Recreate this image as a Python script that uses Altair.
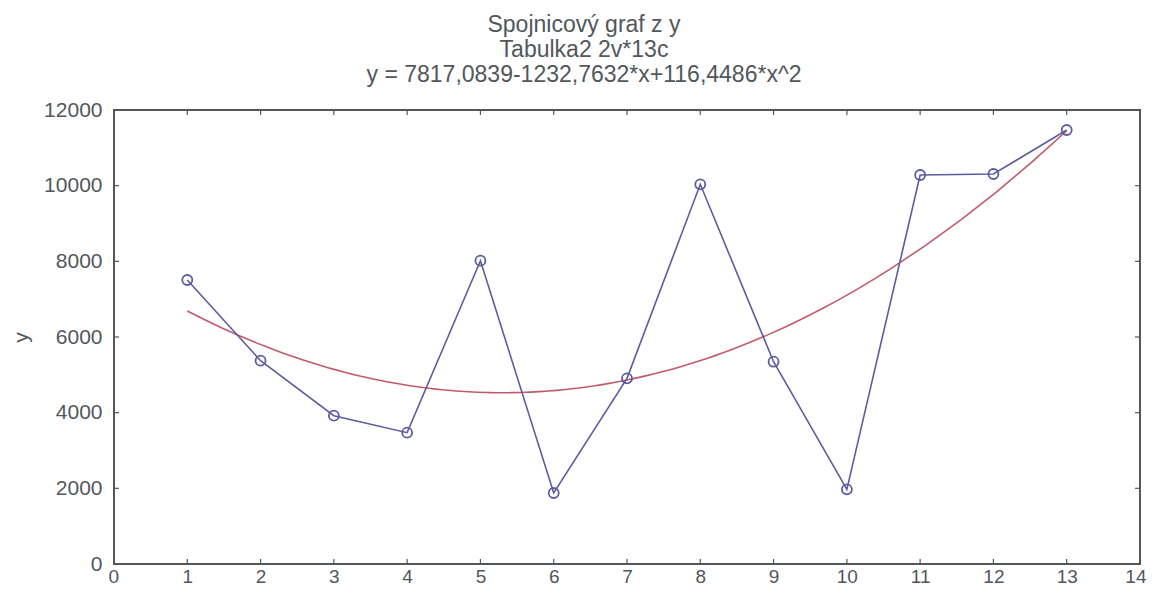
import altair as alt
import pandas as pd

x_vals = [1, 2, 3, 4, 5, 6, 7, 8, 9, 10, 11, 12, 13]
y_vals = [7507, 5374, 3920, 3471, 8017, 1877, 4908, 10036, 5347, 1974, 10282, 10308, 11471]
x_ticks = list(range(0, 15))
y_ticks = [0, 2000, 4000, 6000, 8000, 10000, 12000]
title_lines = ["Spojnicový graf z y", "Tabulka2 2v*13c", "y = 7817,0839-1232,7632*x+116,4486*x^2"]

W, H = 1026, 454
FONT = "Liberation Sans"
GRAY = "#52575b"
LINE = "#5c5ca0"
FIT = "#c25a6c"

df = pd.DataFrame({"x": x_vals, "y": y_vals})
xt = pd.DataFrame({"t": x_ticks})
yt = pd.DataFrame({"t": y_ticks})

xs = alt.Scale(domain=[0, 14], nice=False, zero=False)
ys = alt.Scale(domain=[0, 12000], nice=False)

xaxis = alt.Axis(values=x_ticks, ticks=False, domain=False, grid=False, labelFont=FONT,
                 labelFontSize=19, labelColor=GRAY, labelPadding=3, title=None, format="d",
                 labelFlush=True, labelFlushOffset=6)
yaxis = alt.Axis(values=y_ticks, ticks=False, domain=False, grid=False, labelFont=FONT,
                 labelFontSize=21, labelColor=GRAY, labelPadding=12, title="y",
                 titleFont=FONT, titleFontSize=21, titleColor=GRAY, titleFontWeight="normal",
                 titlePadding=12, format="d")

base = alt.Chart(df)

line = base.mark_line(color=LINE, strokeWidth=1.6).encode(
    x=alt.X("x:Q", scale=xs, axis=xaxis),
    y=alt.Y("y:Q", scale=ys, axis=yaxis),
)
pts = base.mark_point(shape="circle", filled=False, size=100, color=LINE, strokeWidth=1.8, opacity=1).encode(
    x=alt.X("x:Q", scale=xs), y=alt.Y("y:Q", scale=ys)
)
fit = base.transform_regression("x", "y", method="poly", order=2, extent=[1, 13]).mark_line(
    color=FIT, strokeWidth=1.6
).encode(x=alt.X("x:Q", scale=xs), y=alt.Y("y:Q", scale=ys))

tick_len = 5
bt = alt.Chart(xt).mark_rule(color=GRAY, strokeWidth=1.2).encode(
    x=alt.X("t:Q", scale=xs), y=alt.value(H), y2=alt.value(H - tick_len))
tt = alt.Chart(xt).mark_rule(color=GRAY, strokeWidth=1.2).encode(
    x=alt.X("t:Q", scale=xs), y=alt.value(0), y2=alt.value(tick_len))
lt = alt.Chart(yt).mark_rule(color=GRAY, strokeWidth=1.2).encode(
    y=alt.Y("t:Q", scale=ys), x=alt.value(0), x2=alt.value(tick_len))
rt = alt.Chart(yt).mark_rule(color=GRAY, strokeWidth=1.2).encode(
    y=alt.Y("t:Q", scale=ys), x=alt.value(W), x2=alt.value(W - tick_len))

chart = alt.layer(bt, tt, lt, rt, fit, line, pts).properties(
    width=W, height=H,
    title=alt.TitleParams(text=title_lines, anchor="middle", font=FONT, fontSize=23,
                          fontWeight="normal", color=GRAY, lineHeight=25, dx=-43, offset=12,
                          frame="group"),
    autosize=alt.AutoSizeParams(type="none"),
    padding={"left": 106, "top": 102, "right": 7, "bottom": 24},
).configure(background="white").configure_view(stroke=GRAY, strokeWidth=2)

chart.save("out.html", embed_options={"renderer": "svg", "actions": False})
